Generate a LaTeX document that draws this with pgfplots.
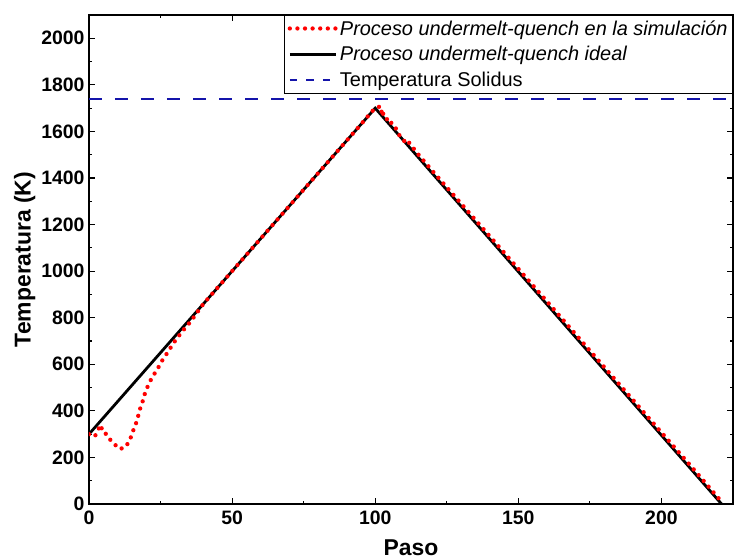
\documentclass[border=0pt]{standalone}
\usepackage{pgfplots}
\pgfplotsset{compat=1.18}
\usepackage{fontspec}
\setmainfont{Liberation Sans}
\definecolor{solblue}{RGB}{20,20,170}
\definecolor{simred}{RGB}{255,0,0}
\pgfplotstableread{
x y
0 300
1 295
2 290
3 312
4 340
5 305
6 301
7 282
8.5 261
10.8 236
12.8 245
14.3 275
15.2 308
16.3 341
17.1 374
17.8 407
18.7 439
19.5 473
20.4 502
21.6 533
23 562
24.4 590
25.8 621
27.3 648
28.8 677
30.3 705
32.1 733
33.8 760
35.6 784
37.5 818
40 860
60 1140
80 1420
95 1630
97 1659
99.2 1690
100.3 1699
101.3 1706
101.9 1680
102.9 1695
102.7 1666
103.9 1652
105.2 1655
105.6 1637
106.1 1623
107.1 1616
107.5 1604
108.2 1587
109.1 1575
110.2 1558
111.4 1565
112 1547
113.4 1527
114.3 1512
120 1430
140 1150
160 870
180 588
200 307
210 167
221 10
}\simdata
\pgfplotstableread{
x y
0 300
100 1700
221 0
}\idealdata
\begin{document}
\begin{tikzpicture}
\begin{axis}[
  scale only axis, width=644bp, height=489bp,
  xmin=0, xmax=225, ymin=0, ymax=2100,
  xtick={0,50,...,200}, minor xtick={25,75,...,225},
  ytick={0,200,...,2000}, minor ytick={100,300,...,2100},
  tick align=inside, major tick length=6bp, minor tick length=3.5bp,
  every tick/.style={black, line width=1.2bp},
  axis line style={line width=1.4bp},
  tick label style={font=\fontsize{19.5}{19.5}\selectfont\bfseries},
  /pgf/number format/assume math mode=true,
  /pgf/number format/1000 sep={},
  xticklabel style={yshift=-3bp},
  yticklabel style={xshift=-1bp},
  xlabel={Paso}, ylabel={Temperatura (K)},
  label style={font=\fontsize{23}{23}\selectfont\bfseries},
  xlabel style={yshift=-9bp},
  ylabel style={yshift=-1bp},
  clip=true,
  reverse legend,
  legend cell align=left,
  legend image code/.code={\draw[#1] plot coordinates {(0bp,0bp) (46bp,0bp)};},
  legend style={at={(rel axis cs:1,1)}, anchor=north east, draw=black, line width=0.8bp,
    font=\fontsize{20}{22}\selectfont, inner xsep=3bp, inner ysep=3bp, row sep=6bp},
]
\addplot[solblue, line width=2.6bp, dash pattern=on 13bp off 13bp,
  legend image code/.code={\draw[solblue, line width=2bp, dash pattern=on 7.5bp off 9bp] (0bp,0bp) -- (46bp,0bp);}]
  coordinates {(0,1740) (225,1740)};
\addlegendentry{Temperatura Solidus}
\addplot[black, line width=2.8bp] table[x=x,y=y] {\idealdata};
\addlegendentry{\textit{Proceso undermelt-quench ideal}}
\addplot[simred, line width=4.3bp, line cap=round, dash pattern=on 0bp off 7.6bp] table[x=x,y=y] {\simdata};
\addlegendentry{\textit{Proceso undermelt-quench en la simulación}}
\coordinate (bl) at (rel axis cs:0,0);
\coordinate (tr) at (rel axis cs:1,1);
\end{axis}
\path ([shift={(-89bp,-56bp)}]bl) rectangle ([shift={(1bp,15bp)}]tr);
\end{tikzpicture}
\end{document}
